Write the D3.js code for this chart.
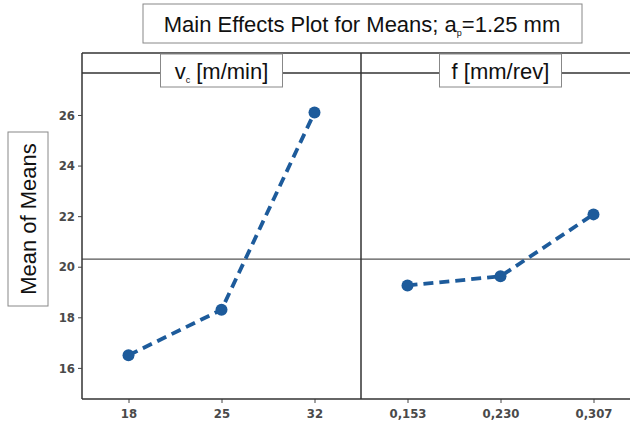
<!DOCTYPE html>
<html>
<head>
<meta charset="utf-8">
<script src="https://cdn.jsdelivr.net/npm/d3@7"></script>
<style>
  body { margin: 0; background: #fff; }
  svg { display: block; }
  .tick text { font-family: "DejaVu Sans Condensed", "DejaVu Sans", sans-serif; font-weight: bold; font-size: 13px; fill: #4a4a4a; }
  .box-label { font-family: "Liberation Sans", Arial, sans-serif; fill: #111; }
</style>
</head>
<body>
<div id="chart"></div>
<script>
// factor levels and the mean response at each level
const vcLevels = ["18", "25", "32"];
const vcMeans = [16.5, 18.3, 26.1];
const fLevels = ["0,153", "0,230", "0,307"];
const fMeans = [19.26, 19.62, 22.07];
const yTicks = [16, 18, 20, 22, 24, 26];
const grandMean = 20.3;

const width = 630, height = 427;
const lineColor = "#1d5b9b";

const svg = d3.select("#chart").append("svg")
  .attr("width", width)
  .attr("height", height);

const frameTop = 53, stripH = 20, bottom = 399, left = 82, panelW = 279;

const y = d3.scaleLinear()
  .domain([14.77, 27.66])
  .range([bottom, frameTop + stripH]);

let panels = [
  { label: "v", sub: "c", rest: " [m/min]", levels: vcLevels, means: vcMeans },
  { label: "f [mm/rev]", sub: null, rest: "", levels: fLevels, means: fMeans }
];

// strip lines and frame top
[frameTop, frameTop + stripH].forEach(function (yy) {
  svg.append("line")
    .attr("x1", left).attr("x2", width)
    .attr("y1", yy).attr("y2", yy)
    .attr("stroke", "#333").attr("stroke-width", 1.5);
});

panels.forEach(function (p, i) {
  let x0 = left + i * panelW;
  let g = svg.append("g");
  let x = d3.scalePoint().domain(p.levels).range([x0, x0 + panelW]).padding(0.5);

  // grand mean reference line
  g.append("line")
    .attr("x1", x0).attr("x2", x0 + panelW)
    .attr("y1", y(grandMean)).attr("y2", y(grandMean))
    .attr("stroke", "#555").attr("stroke-width", 1.2);

  // x axis
  let xa = g.append("g")
    .attr("transform", "translate(0," + bottom + ")")
    .call(d3.axisBottom(x).tickSize(4).tickPadding(6));
  xa.select(".domain").remove();
  xa.selectAll(".tick line").attr("stroke", "#444");

  let pts = p.levels.map(function (l, j) { return [x(l), y(p.means[j])]; });

  g.append("path")
    .attr("d", d3.line()(pts))
    .attr("fill", "none")
    .attr("stroke", lineColor)
    .attr("stroke-width", 3.8)
    .attr("stroke-dasharray", "10,6");

  g.selectAll("circle")
    .data(pts)
    .enter().append("circle")
    .attr("cx", function (d) { return d[0]; })
    .attr("cy", function (d) { return d[1]; })
    .attr("r", 6)
    .attr("fill", lineColor);

  // panel divider / frame
  g.append("line")
    .attr("x1", x0).attr("x2", x0)
    .attr("y1", frameTop).attr("y2", bottom)
    .attr("stroke", "#333").attr("stroke-width", 1.5);

  // strip label box
  let cx = x0 + panelW / 2;
  g.append("rect")
    .attr("x", cx - 61).attr("y", frameTop + 1)
    .attr("width", 122).attr("height", 33)
    .attr("fill", "#fff").attr("stroke", "#888").attr("stroke-width", 1);
  let txt = g.append("text")
    .attr("class", "box-label")
    .attr("x", cx)
    .attr("y", frameTop + 26)
    .attr("text-anchor", "middle")
    .attr("font-size", 22);
  txt.append("tspan").text(p.label);
  if (p.sub) {
    txt.append("tspan").attr("font-size", 9).attr("dy", 4).text(p.sub);
    txt.append("tspan").attr("dy", -4).text(p.rest);
  }
});

svg.append("line")
  .attr("x1", left).attr("x2", width)
  .attr("y1", bottom).attr("y2", bottom)
  .attr("stroke", "#333").attr("stroke-width", 1.5);

// y axis
let ya = svg.append("g")
  .attr("transform", "translate(" + left + ",0)")
  .call(d3.axisLeft(y).tickValues(yTicks).tickSize(4).tickPadding(3));
ya.select(".domain").remove();
ya.selectAll(".tick line").attr("stroke", "#444");

// y axis title
svg.append("rect")
  .attr("x", 8).attr("y", 132).attr("width", 40).attr("height", 174)
  .attr("fill", "#fff").attr("stroke", "#888");
svg.append("text")
  .attr("class", "box-label")
  .attr("transform", "translate(36,219) rotate(-90)")
  .attr("text-anchor", "middle")
  .attr("font-size", 22)
  .text("Mean of Means");

// main title
svg.append("rect")
  .attr("x", 143).attr("y", 4).attr("width", 439).attr("height", 39)
  .attr("fill", "#fff").attr("stroke", "#888");
let title = svg.append("text")
  .attr("class", "box-label")
  .attr("x", 362).attr("y", 32)
  .attr("text-anchor", "middle")
  .attr("font-size", 22);
title.append("tspan").text("Main Effects Plot for Means; a");
title.append("tspan").attr("font-size", 9).attr("dy", 4).text("p");
title.append("tspan").attr("dy", -4).text("=1.25 mm");
</script>
</body>
</html>
